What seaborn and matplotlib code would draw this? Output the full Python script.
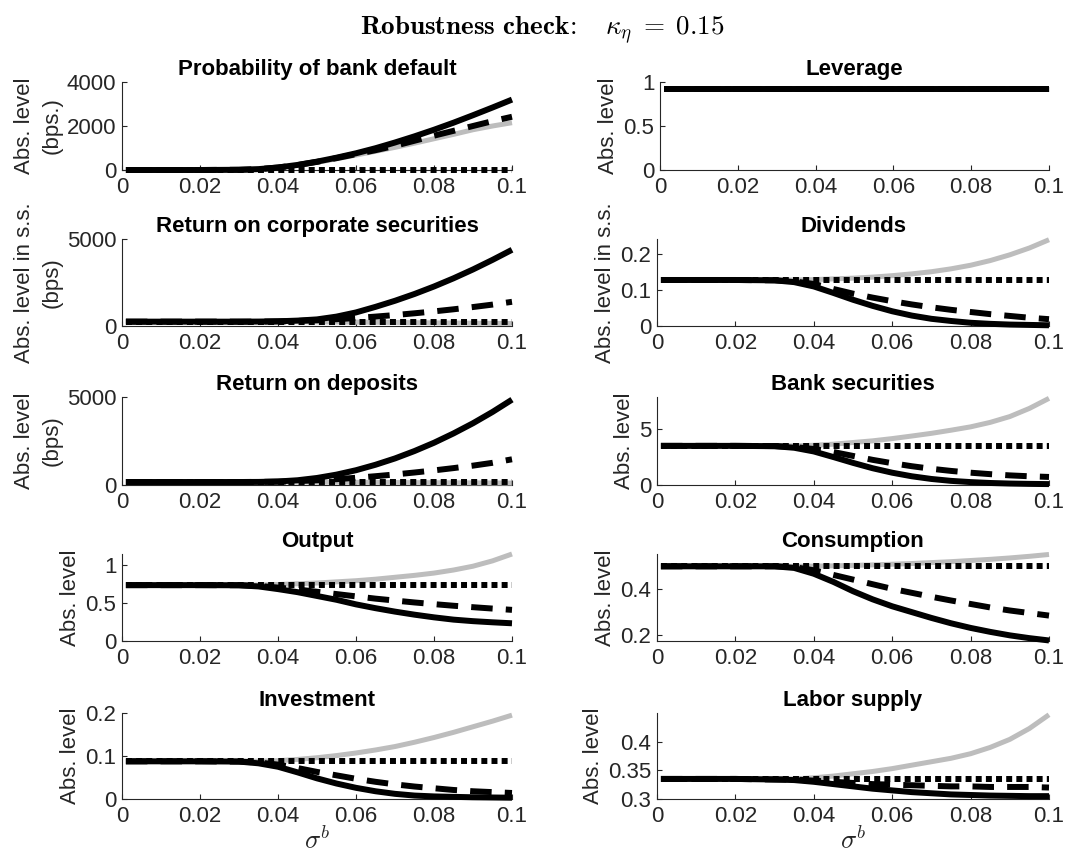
import numpy as np
import matplotlib
matplotlib.use("Agg")
import matplotlib.pyplot as plt
import seaborn as sns

# ---------------- data ----------------
X = [0.001, 0.01, 0.02, 0.03, 0.035, 0.04, 0.045, 0.05, 0.055, 0.06,
     0.065, 0.07, 0.075, 0.08, 0.085, 0.09, 0.095, 0.1]

titles = ["Probability of bank default", "Leverage",
          "Return on corporate securities", "Dividends",
          "Return on deposits", "Bank securities",
          "Output", "Consumption",
          "Investment", "Labor supply"]

ylabels = ["Abs. level\n(bps.)", "Abs. level",
           "Abs. level in s.s.\n(bps)", "Abs. level in s.s.",
           "Abs. level\n(bps)", "Abs. level",
           "Abs. level", "Abs. level",
           "Abs. level", "Abs. level"]

default_solid = [0, 0, 0, 10, 40, 115, 230, 380, 560, 760, 990, 1250, 1530, 1830, 2150, 2490, 2840, 3200]
default_dashed = [0, 0, 0, 10, 40, 112, 225, 370, 540, 720, 900, 1100, 1330, 1560, 1780, 2000, 2220, 2420]
default_gray = [0, 0, 0, 10, 40, 110, 215, 350, 510, 680, 850, 1030, 1220, 1420, 1620, 1830, 2000, 2150]
default_dotted = [0, 0, 0, 0, 0, 0, 0, 0, 0, 0, 0, 0, 0, 0, 0, 0, 0, 0]

leverage_solid = [0.915] * 18
leverage_dashed = [0.915] * 18
leverage_gray = [0.915] * 18
leverage_dotted = [0.915] * 18

corp_solid = [250, 250, 250, 250, 255, 270, 310, 380, 540, 780, 1100, 1450, 1840, 2270, 2740, 3250, 3800, 4380]
corp_dashed = [250, 250, 250, 250, 252, 265, 290, 330, 390, 460, 540, 630, 730, 840, 960, 1090, 1230, 1390]
corp_gray = [250, 250, 250, 250, 250, 248, 245, 240, 232, 223, 213, 203, 192, 181, 170, 160, 150, 140]
corp_dotted = [250] * 18

div_solid = [0.128, 0.128, 0.128, 0.127, 0.122, 0.110, 0.092, 0.073, 0.056, 0.041, 0.029, 0.020, 0.014, 0.009, 0.006, 0.004, 0.003, 0.002]
div_dashed = [0.128, 0.128, 0.128, 0.127, 0.124, 0.117, 0.103, 0.090, 0.079, 0.069, 0.060, 0.052, 0.045, 0.039, 0.033, 0.028, 0.023, 0.019]
div_gray = [0.128, 0.128, 0.128, 0.128, 0.128, 0.129, 0.131, 0.133, 0.136, 0.140, 0.145, 0.151, 0.159, 0.169, 0.182, 0.198, 0.217, 0.240]
div_dotted = [0.128] * 18

dep_solid = [170, 170, 170, 170, 175, 200, 270, 400, 590, 840, 1150, 1510, 1930, 2400, 2930, 3510, 4150, 4850]
dep_dashed = [170, 170, 170, 170, 175, 190, 220, 270, 330, 410, 500, 600, 710, 830, 960, 1100, 1260, 1460]
dep_gray = [170, 170, 170, 170, 170, 168, 165, 160, 155, 150, 145, 140, 135, 130, 125, 120, 115, 110]
dep_dotted = [170] * 18

bank_solid = [3.5, 3.5, 3.5, 3.47, 3.33, 3.0, 2.5, 1.98, 1.5, 1.1, 0.78, 0.54, 0.37, 0.26, 0.18, 0.13, 0.10, 0.08]
bank_dashed = [3.5, 3.5, 3.5, 3.48, 3.4, 3.22, 2.95, 2.6, 2.25, 1.95, 1.68, 1.45, 1.26, 1.1, 0.97, 0.86, 0.78, 0.72]
bank_gray = [3.5, 3.5, 3.5, 3.5, 3.5, 3.55, 3.65, 3.8, 3.95, 4.15, 4.38, 4.62, 4.9, 5.2, 5.6, 6.12, 6.85, 7.75]
bank_dotted = [3.5] * 18

out_solid = [0.732, 0.732, 0.732, 0.73, 0.715, 0.68, 0.64, 0.59, 0.54, 0.48, 0.43, 0.385, 0.345, 0.31, 0.28, 0.26, 0.245, 0.232]
out_dashed = [0.732, 0.732, 0.732, 0.731, 0.722, 0.70, 0.675, 0.645, 0.615, 0.585, 0.555, 0.53, 0.505, 0.483, 0.462, 0.443, 0.425, 0.408]
out_gray = [0.732, 0.732, 0.732, 0.732, 0.734, 0.74, 0.75, 0.76, 0.775, 0.79, 0.81, 0.835, 0.86, 0.89, 0.93, 0.98, 1.05, 1.14]
out_dotted = [0.732] * 18

cons_solid = [0.497, 0.497, 0.497, 0.497, 0.49, 0.465, 0.43, 0.39, 0.355, 0.325, 0.30, 0.275, 0.252, 0.232, 0.215, 0.2, 0.188, 0.178]
cons_dashed = [0.497, 0.497, 0.497, 0.497, 0.494, 0.48, 0.46, 0.44, 0.42, 0.40, 0.383, 0.366, 0.35, 0.335, 0.32, 0.307, 0.296, 0.285]
cons_gray = [0.497, 0.497, 0.497, 0.497, 0.497, 0.498, 0.499, 0.501, 0.503, 0.506, 0.509, 0.513, 0.517, 0.522, 0.527, 0.533, 0.540, 0.548]
cons_dotted = [0.497] * 18

inv_solid = [0.0876, 0.0876, 0.0876, 0.087, 0.083, 0.075, 0.062, 0.048, 0.036, 0.026, 0.018, 0.012, 0.008, 0.006, 0.005, 0.004, 0.0035, 0.003]
inv_dashed = [0.0876, 0.0876, 0.0876, 0.087, 0.085, 0.080, 0.072, 0.063, 0.055, 0.047, 0.040, 0.034, 0.029, 0.025, 0.021, 0.018, 0.016, 0.014]
inv_gray = [0.0876, 0.0876, 0.0876, 0.0876, 0.088, 0.089, 0.092, 0.096, 0.101, 0.107, 0.114, 0.122, 0.132, 0.143, 0.155, 0.168, 0.181, 0.195]
inv_dotted = [0.0876] * 18

lab_solid = [0.335, 0.335, 0.335, 0.334, 0.333, 0.330, 0.326, 0.322, 0.318, 0.315, 0.312, 0.310, 0.308, 0.307, 0.306, 0.3055, 0.305, 0.305]
lab_dashed = [0.335, 0.335, 0.335, 0.334, 0.334, 0.332, 0.330, 0.328, 0.326, 0.325, 0.324, 0.323, 0.322, 0.322, 0.321, 0.321, 0.321, 0.320]
lab_gray = [0.335, 0.335, 0.335, 0.335, 0.335, 0.337, 0.340, 0.344, 0.348, 0.353, 0.359, 0.365, 0.371, 0.379, 0.390, 0.404, 0.423, 0.447]
lab_dotted = [0.335] * 18

series = [
    (default_solid, default_dashed, default_gray, default_dotted),
    (leverage_solid, leverage_dashed, leverage_gray, leverage_dotted),
    (corp_solid, corp_dashed, corp_gray, corp_dotted),
    (div_solid, div_dashed, div_gray, div_dotted),
    (dep_solid, dep_dashed, dep_gray, dep_dotted),
    (bank_solid, bank_dashed, bank_gray, bank_dotted),
    (out_solid, out_dashed, out_gray, out_dotted),
    (cons_solid, cons_dashed, cons_gray, cons_dotted),
    (inv_solid, inv_dashed, inv_gray, inv_dotted),
    (lab_solid, lab_dashed, lab_gray, lab_dotted),
]

ylims = [(0, 4000), (0, 1), (0, 5000), (0, 0.242), (0, 5000),
         (0, 7.87), (0, 1.14), (0.1757, 0.55), (0, 0.2), (0.3, 0.45)]
yticks = [[0, 2000, 4000], [0, 0.5, 1], [0, 5000], [0, 0.1, 0.2], [0, 5000],
          [0, 5], [0, 0.5, 1], [0.2, 0.4], [0, 0.1, 0.2], [0.3, 0.35, 0.4]]
ytick_labels = [["0", "2000", "4000"], ["0", "0.5", "1"], ["0", "5000"],
                ["0", "0.1", "0.2"], ["0", "5000"], ["0", "5"], ["0", "0.5", "1"],
                ["0.2", "0.4"], ["0", "0.1", "0.2"], ["0.3", "0.35", "0.4"]]
xticks = [0, 0.02, 0.04, 0.06, 0.08, 0.1]
xtick_labels = ["0", "0.02", "0.04", "0.06", "0.08", "0.1"]

# ---------------- style ----------------
sns.set_style("ticks")
plt.rcParams["font.family"] = ["Liberation Sans", "DejaVu Sans"]
plt.rcParams["mathtext.fontset"] = "cm"
plt.rcParams["axes.unicode_minus"] = False

W, H = 1084, 857
fig = plt.figure(figsize=(W / 100, H / 100), dpi=100)
fig.patch.set_facecolor("white")

col_x = [(122, 512), (657, 1049)]
row_y = [(82, 170), (239, 326), (397, 485), (554, 641), (713, 799)]

AX_COLOR = "#262626"
FS = 16
LW = 4.3
GRAY = "#bdbdbd"

for i in range(10):
    r, c = divmod(i, 2)
    x0, x1 = col_x[c]
    if i == 1:
        x0 = 660
    t, b = row_y[r]
    ax = fig.add_axes([x0 / W, 1 - b / H, (x1 - x0) / W, (b - t) / H])
    s_solid, s_dashed, s_gray, s_dotted = series[i]

    sns.lineplot(x=X, y=s_gray, ax=ax, color=GRAY, linewidth=3.6,
                 estimator=None, sort=False, legend=False)
    sns.lineplot(x=X, y=s_solid, ax=ax, color="black", linewidth=LW,
                 estimator=None, sort=False, legend=False)
    sns.lineplot(x=X, y=s_dashed, ax=ax, color="black", linewidth=LW,
                 estimator=None, sort=False, legend=False)
    sns.lineplot(x=X, y=s_dotted, ax=ax, color="black", linewidth=LW,
                 estimator=None, sort=False, legend=False)
    lines = ax.lines
    lines[2].set_dashes([3.6, 2.2])
    lines[3].set_dashes([1.0, 0.7])
    for ln in lines:
        ln.set_clip_on(False)
        ln.set_zorder(3)
        ln.set_solid_capstyle("butt")
        ln.set_solid_joinstyle("round")
        ln.set_dash_capstyle("butt")

    ax.set_xlim(0, 0.1)
    ax.set_ylim(*ylims[i])
    ax.set_xticks(xticks)
    ax.set_xticklabels(xtick_labels)
    ax.set_yticks(yticks[i])
    ax.set_yticklabels(ytick_labels[i])
    ax.tick_params(direction="in", length=3.5, width=0.8, colors=AX_COLOR,
                   labelsize=FS)
    ax.tick_params(axis="x", pad=5)
    ax.tick_params(axis="y", pad=4)
    for sp in ["top", "right"]:
        ax.spines[sp].set_visible(False)
    for sp in ["left", "bottom"]:
        ax.spines[sp].set_color(AX_COLOR)
        ax.spines[sp].set_linewidth(0.8)
    ax.set_facecolor("white")
    ax.set_title(titles[i], fontsize=FS, fontweight="bold", color="black", pad=5)
    ax.set_ylabel(ylabels[i], fontsize=FS, color=AX_COLOR, labelpad=3,
                  linespacing=1.4)
    if r == 4:
        ax.set_xlabel(r"$\sigma^b$", fontsize=19, color=AX_COLOR, labelpad=0)
    else:
        ax.set_xlabel("")

fig.text(0.5, 1 - 30 / H,
         r"$\mathbf{Robustness\ check\!:}\ \ \ \kappa_\eta \;=\; 0.15$",
         ha="center", va="center", fontsize=19.5, color="black")

fig.savefig("out.png", dpi=100, facecolor="white")
